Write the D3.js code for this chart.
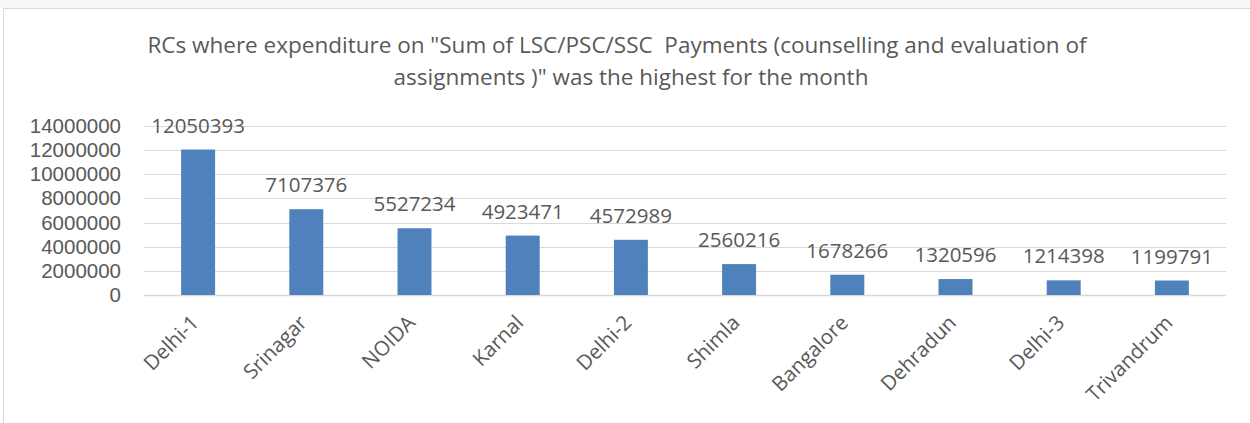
<!DOCTYPE html>
<html>
<head>
<meta charset="utf-8">
<script src="https://cdn.jsdelivr.net/npm/d3@7"></script>
<style>
  body { margin: 0; background: #fff; }
  text { font-family: "Open Sans", "Liberation Sans", Arial, sans-serif; fill: #595959; }
</style>
</head>
<body>
<div id="chart"></div>
<script>
var centres = ["Delhi-1", "Srinagar", "NOIDA", "Karnal", "Delhi-2", "Shimla", "Bangalore", "Dehradun", "Delhi-3", "Trivandrum"];
var payments = [12050393, 7107376, 5527234, 4923471, 4572989, 2560216, 1678266, 1320596, 1214398, 1199791];
var yTicks = [0, 2000000, 4000000, 6000000, 8000000, 10000000, 12000000, 14000000];
var titleLines = ["RCs where expenditure on \"Sum of LSC/PSC/SSC  Payments (counselling and evaluation of",
                  "assignments )\" was the highest for the month"];

var w = 1250, h = 423;
var svg = d3.select("#chart").append("svg")
    .attr("width", w)
    .attr("height", h);

// faint strip at the very top of the screenshot
svg.append("rect")
    .attr("x", 0).attr("y", 0)
    .attr("width", w).attr("height", 8)
    .attr("fill", "#f4f8f8");

// chart frame (only top and left edges are in view)
svg.append("path")
    .attr("d", "M3.5," + h + "V8.5H" + w)
    .attr("fill", "none")
    .attr("stroke", "#d9d9d9");

var x = d3.scaleBand()
    .domain(centres)
    .range([144, 1226])
    .paddingInner(0.686)
    .paddingOuter(0.343);

var y = d3.scaleLinear()
    .domain([0, 14000000])
    .range([295, 126]);

// gridlines
svg.append("g")
    .selectAll("line")
    .data(yTicks)
    .enter()
    .append("line")
    .attr("x1", 144)
    .attr("x2", 1226)
    .attr("y1", function(d) { return Math.round(y(d)) + 0.5; })
    .attr("y2", function(d) { return Math.round(y(d)) + 0.5; })
    .attr("stroke", "#d9d9d9")
    .attr("stroke-width", function(d) { return d === 0 ? 1.5 : 1; });

// y axis labels (tight stack, so a compact font)
var yAxis = svg.append("g")
    .attr("transform", "translate(144,0)")
    .call(d3.axisLeft(y).tickValues(yTicks).tickSize(0).tickPadding(23).tickFormat(d3.format("d")));
yAxis.select(".domain").remove();
yAxis.selectAll("text")
    .attr("font-size", 20.5)
    .attr("font-family", null)
    .style("font-family", "'Liberation Sans', Arial, sans-serif")
    .attr("fill", "#595959");

// bars
svg.append("g")
    .selectAll("rect")
    .data(payments)
    .enter()
    .append("rect")
    .attr("x", function(d, i) { return x(centres[i]); })
    .attr("y", function(d) { return y(d); })
    .attr("width", x.bandwidth())
    .attr("height", function(d) { return y(0) - y(d); })
    .attr("fill", "#4f81bd");

// value labels
svg.append("g")
    .selectAll("text")
    .data(payments)
    .enter()
    .append("text")
    .attr("x", function(d, i) { return x(centres[i]) + x.bandwidth() / 2; })
    .attr("y", function(d) { return y(d) - 17; })
    .attr("text-anchor", "middle")
    .attr("font-size", 20.5)
    .text(function(d) { return d; });

// category labels
var xAxis = svg.append("g")
    .attr("transform", "translate(0,295)")
    .call(d3.axisBottom(x).tickSize(0).tickPadding(0));
xAxis.select(".domain").remove();
xAxis.selectAll("text")
    .attr("font-size", 20.5)
    .attr("font-family", null)
    .attr("fill", "#595959")
    .attr("text-anchor", "end")
    .attr("dy", null)
    .attr("transform", "translate(2,29) rotate(-45)");

// title
svg.append("g")
    .selectAll("text")
    .data(titleLines)
    .enter()
    .append("text")
    .attr("x", function(d, i) { return i === 0 ? 617 : 631; })
    .attr("y", function(d, i) { return 53 + i * 32; })
    .attr("text-anchor", "middle")
    .attr("font-size", 22.5)
    .style("white-space", "pre")
    .text(function(d) { return d; });
</script>
</body>
</html>
